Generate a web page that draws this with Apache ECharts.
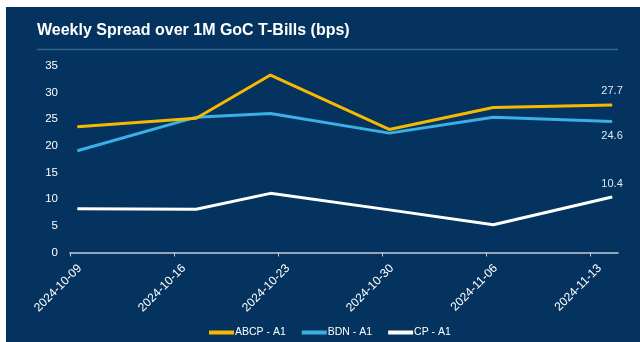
<!DOCTYPE html>
<html><head><meta charset="utf-8">
<script src="https://cdn.jsdelivr.net/npm/echarts@6/dist/echarts.min.js"></script>
<style>html,body{margin:0;padding:0;background:#fff}#c{width:640px;height:342px}</style>
</head><body><div id="c"></div>
<script>
// Data
const pointDates = ['2024-10-09','2024-10-17','2024-10-22','2024-10-30','2024-11-06','2024-11-14'];
const abcp = [23.6, 25.2, 33.3, 23.1, 27.2, 27.7];
const bdn  = [19.1, 25.4, 26.1, 22.4, 25.4, 24.6];
const cp   = [8.2, 8.1, 11.1, 8.0, 5.2, 10.4];
const tickLabels = ['2024-10-09','2024-10-16','2024-10-23','2024-10-30','2024-11-06','2024-11-13'];
const seriesNames = ['ABCP - A1','BDN - A1','CP - A1'];

const DAY = 86400000;
const t0 = Date.parse(tickLabels[0] + 'T00:00:00Z');
function dayOf(d){ return (Date.parse(d + 'T12:00:00Z') - t0) / DAY; }
function pairs(vals){ return vals.map((v,i)=>[dayOf(pointDates[i]), v]); }
function lastLabel(pos, dist){
  return {show:true, position:pos, distance:dist, color:'#e4e8ee', fontSize:11, fontFamily:'Liberation Sans, Arial',
    formatter:(p)=> p.dataIndex === pointDates.length-1 ? p.value[1].toFixed(1) : ''};
}
const tickDays = tickLabels.map((d,i)=>i*7);

const chart = echarts.init(document.getElementById('c'), null, {renderer:'canvas'});
chart.setOption({
  backgroundColor:'#ffffff',
  animation:false,
  textStyle:{fontFamily:'Liberation Sans, Arial'},
  graphic:[
    {type:'rect', shape:{x:6,y:7,width:634,height:335}, style:{fill:'#04335f'}, z:-10},
    {type:'text', left:37, top:23, style:{text:'Weekly Spread over 1M GoC T-Bills (bps)', fill:'#ffffff', font:'bold 16px Liberation Sans, Arial'}},
    {type:'line', shape:{x1:37,y1:49.5,x2:618,y2:49.5}, style:{stroke:'#2e6a8c', lineWidth:1.5}}
  ],
  grid:{left:70, right:22, top:66, bottom:89.5, containLabel:false},
  legend:{
    left:204, top:322, itemWidth:25, itemHeight:4, itemGap:16, icon:'rect',
    textStyle:{color:'#ffffff', fontSize:10.5, padding:[0,0,0,-4]},
    data:seriesNames
  },
  xAxis:{
    type:'value', min:0, max:36.9,
    splitLine:{show:false},
    axisLine:{show:true, lineStyle:{color:'#c5cbd2', width:1.5}},
    axisTick:{show:true, length:4, customValues:tickDays, lineStyle:{color:'#c5cbd2'}},
    axisLabel:{rotate:45, color:'#ffffff', fontSize:12, margin:4, customValues:tickDays,
      verticalAlign:'top', padding:[8,0,0,0],
      formatter:(v)=> tickLabels[Math.round(v/7)] || ''}
  },
  yAxis:{
    type:'value', min:0, max:35, interval:5,
    splitLine:{show:false}, axisLine:{show:false}, axisTick:{show:false},
    axisLabel:{color:'#ffffff', fontSize:11.5, margin:12}
  },
  series:[
    {name:seriesNames[0], type:'line', data:pairs(abcp), symbol:'circle', symbolSize:1, lineStyle:{width:3, color:'#f7b900'}, itemStyle:{color:'#f7b900'}, label:lastLabel('top',8), z:3},
    {name:seriesNames[1], type:'line', data:pairs(bdn), symbol:'circle', symbolSize:1, lineStyle:{width:3, color:'#3ab0e5'}, itemStyle:{color:'#3ab0e5'}, label:lastLabel('bottom',9), z:2},
    {name:seriesNames[2], type:'line', data:pairs(cp), symbol:'circle', symbolSize:1, lineStyle:{width:3, color:'#ffffff'}, itemStyle:{color:'#ffffff'}, label:lastLabel('top',7), z:2}
  ]
});
</script></body></html>
